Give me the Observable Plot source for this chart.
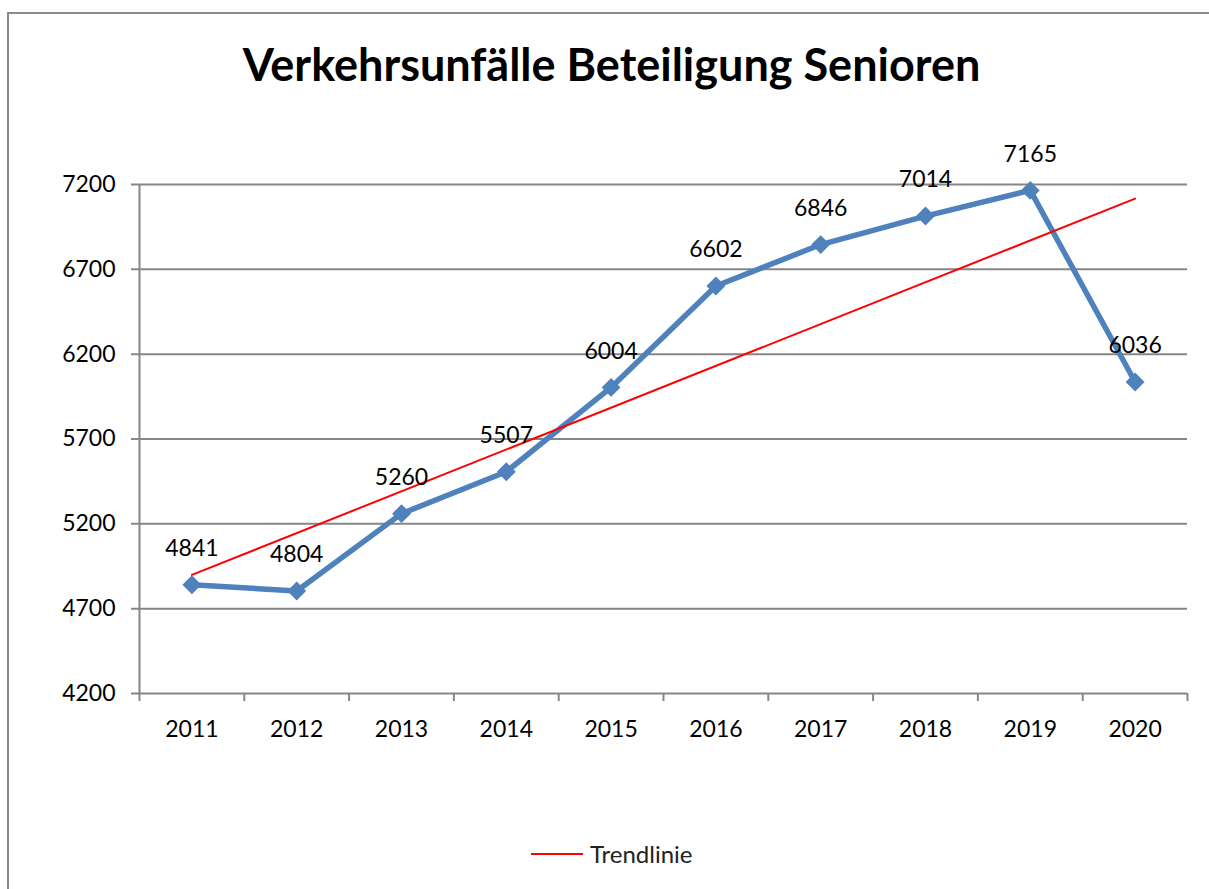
<!DOCTYPE html>
<html>
<head>
<meta charset="utf-8">
<script src="https://cdn.jsdelivr.net/npm/d3@7"></script>
<script src="https://cdn.jsdelivr.net/npm/@observablehq/plot@0.6"></script>
<style>
  html, body { margin: 0; padding: 0; background: #fff; }
  body { width: 1209px; height: 889px; position: relative; overflow: hidden; font-family: Lato, "Open Sans", sans-serif; }
  #frame { position: absolute; left: 7px; top: 12px; width: 1220px; height: 900px; border: 2px solid #8a8a8a; box-sizing: border-box; }
  #title { position: absolute; left: 0; top: 37px; width: 1223px; text-align: center; font-weight: 700; font-size: 45px; color: #000; white-space: nowrap; }
  #chart { position: absolute; left: 0; top: 0; }
  #legend { position: absolute; left: 531px; top: 839px; display: flex; align-items: center; font-size: 24px; color: #222; }
  #legend .sw { width: 52px; height: 0; border-top: 2.5px solid #ff0000; margin-right: 7px; }
</style>
</head>
<body>
<div id="frame"></div>
<div id="title">Verkehrsunfälle Beteiligung Senioren</div>
<div id="chart"></div>
<div id="legend"><span class="sw"></span><span>Trendlinie</span></div>
<script>
const years = [2011, 2012, 2013, 2014, 2015, 2016, 2017, 2018, 2019, 2020];
const values = [4841, 4804, 5260, 5507, 6004, 6602, 6846, 7014, 7165, 6036];
const yTicks = [4200, 4700, 5200, 5700, 6200, 6700, 7200];

const data = years.map((year, i) => ({year, value: values[i]}));
const bounds = [...years.map(y => y - 0.5), years[years.length - 1] + 0.5];

const gray = "#868686";
const plot = Plot.plot({
  width: 1209,
  height: 760,
  marginLeft: 139,
  marginRight: 22,
  marginTop: 184,
  marginBottom: 67,
  x: {type: "linear", domain: [bounds[0], bounds[bounds.length - 1]], axis: null, label: null},
  y: {domain: [4200, 7200], axis: null, label: null},
  style: {fontFamily: "Lato, 'Open Sans', sans-serif", fontSize: "23px", color: "#000", background: "transparent", overflow: "visible"},
  marks: [
    Plot.ruleY(yTicks, {stroke: gray, strokeWidth: 2, insetLeft: -8}),
    Plot.ruleX([bounds[0]], {y1: 4200, y2: 7200, stroke: gray, strokeWidth: 2}),
    Plot.ruleX(bounds, {y1: 4200, y2: 4200, insetBottom: -8, stroke: gray, strokeWidth: 2}),
    Plot.axisY({ticks: yTicks, tickSize: 0, tickPadding: 24, tickFormat: d => String(d), fill: "#000", label: null}),
    Plot.axisX({ticks: years, tickSize: 0, tickPadding: 27, tickFormat: d => String(d), fill: "#000", label: null}),
    Plot.line(data, {x: "year", y: "value", stroke: "#4F81BD", strokeWidth: 5.5, strokeLinejoin: "round"}),
    Plot.dot(data, {x: "year", y: "value", symbol: "diamond2", r: 8.5, fill: "#4F81BD", stroke: "none"}),
    Plot.linearRegressionY(data, {x: "year", y: "value", ci: 0, stroke: "#ff0000", strokeWidth: 2}),
    Plot.text(data, {x: "year", y: "value", text: d => String(d.value), dy: -36, fill: "#000"})
  ]
});
document.getElementById("chart").appendChild(plot);
</script>
</body>
</html>
